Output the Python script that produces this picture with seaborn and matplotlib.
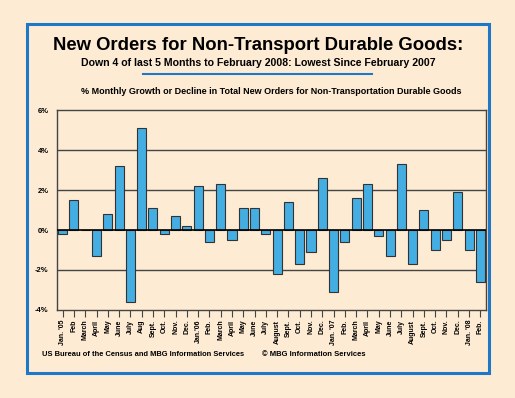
import numpy as np
import pandas as pd
import matplotlib
matplotlib.use('Agg')
import matplotlib.pyplot as plt
import seaborn as sns
from matplotlib.patches import Rectangle
from matplotlib.lines import Line2D
from matplotlib.ticker import FuncFormatter

# Datos
meses = ["Jan. '05", 'Feb', 'March', 'April', 'May', 'June', 'July', 'Aug', 'Sept.', 'Oct.',
         'Nov.', 'Dec.', "Jan.'06", 'Feb.', 'March', 'April', 'May', 'June', 'July', 'August',
         'Sept.', 'Oct.', 'Nov.', 'Dec.', "Jan. '07", 'Feb.', 'March', 'April', 'May', 'June',
         'July', 'August', 'Sept.', 'Oct.', 'Nov.', 'Dec.', "Jan. '08", 'Feb.']
crecimiento = [-0.2, 1.5, 0.0, -1.3, 0.8, 3.2, -3.6, 5.1, 1.1, -0.2,
               0.7, 0.2, 2.2, -0.6, 2.3, -0.5, 1.1, 1.1, -0.2, -2.2,
               1.4, -1.7, -1.1, 2.6, -3.1, -0.6, 1.6, 2.3, -0.3, -1.3,
               3.3, -1.7, 1.0, -1.0, -0.5, 1.9, -1.0, -2.6]
ticks_y = [-4, -2, 0, 2, 4, 6]

titulo = 'New Orders for Non-Transport Durable Goods:'
subtitulo = 'Down 4 of last 5 Months to February 2008: Lowest Since February 2007'
etiqueta = '% Monthly Growth or Decline in Total New Orders for Non-Transportation Durable Goods'
fuente1 = 'US Bureau of the Census and MBG Information Services'
fuente2 = '\u00a9 MBG Information Services'

fondo = '#FDEBD3'
azul_borde = '#1E78C8'
azul_barra = '#44ADE2'

plt.rcParams['font.family'] = ['Liberation Sans', 'DejaVu Sans']
plt.rcParams['font.weight'] = 'bold'

df = pd.DataFrame({'pos': np.arange(len(meses)), 'valor': crecimiento})

W, H = 515, 398
fig = plt.figure(figsize=(W / 100, H / 100), dpi=100, facecolor=fondo)

# Marco azul
marco = Rectangle((27 / W, 1 - 373 / H), (489 - 27) / W, (373 - 24) / H,
                  transform=fig.transFigure, facecolor=fondo,
                  edgecolor=azul_borde, linewidth=2.2, zorder=-10)
fig.add_artist(marco)

ax = fig.add_axes([57 / W, 1 - 310 / H, (486 - 57) / W, (310 - 110) / H])
ax.set_zorder(5)
ax.set_facecolor(fondo)

sns.barplot(data=df, x='pos', y='valor', color=azul_barra, saturation=1, width=0.8,
            edgecolor='#333333', linewidth=0.8, ax=ax, zorder=3)

ax.set_ylim(-4, 6)
ax.set_xlim(-0.5, len(meses) - 0.5)
ax.set_yticks(ticks_y)
ax.yaxis.set_major_formatter(FuncFormatter(lambda v, p: f'{v:.0f}%'))
for t in ticks_y:
    if t not in (0, 6, -4):
        ax.axhline(t, color='#444444', linewidth=1.0, zorder=1)
ax.axhline(0, color='black', linewidth=1.2, zorder=4)

ax.set_xticks(np.arange(len(meses)))
ax.set_xticklabels(meses, rotation=90, fontsize=5)
ax.tick_params(axis='x', length=5, width=0.8, color='#444444', pad=2)
ax.tick_params(axis='y', length=0, labelsize=5.5, pad=6)
ax.set_xlabel('')
ax.set_ylabel('')
for s in ax.spines.values():
    s.set_color('#444444')
    s.set_linewidth(1.0)

fig.text(258 / W, 1 - 45 / H, titulo, ha='center', va='center', fontsize=13.3, fontweight='bold')
fig.text(258 / W, 1 - 63 / H, subtitulo, ha='center', va='center', fontsize=7.6, fontweight='bold')
fig.lines.append(Line2D([143 / W, 372 / W], [1 - 74 / H, 1 - 74 / H], transform=fig.transFigure,
                        color=azul_borde, linewidth=1.5))
fig.text(271 / W, 1 - 91 / H, etiqueta, ha='center', va='center', fontsize=6.45, fontweight='bold')
fig.text(42 / W, 1 - 355 / H, fuente1, ha='left', va='center', fontsize=5.4, fontweight='bold')
fig.text(262 / W, 1 - 355 / H, fuente2, ha='left', va='center', fontsize=5.5, fontweight='bold')

fig.savefig('out.png', dpi=100, facecolor=fondo)
